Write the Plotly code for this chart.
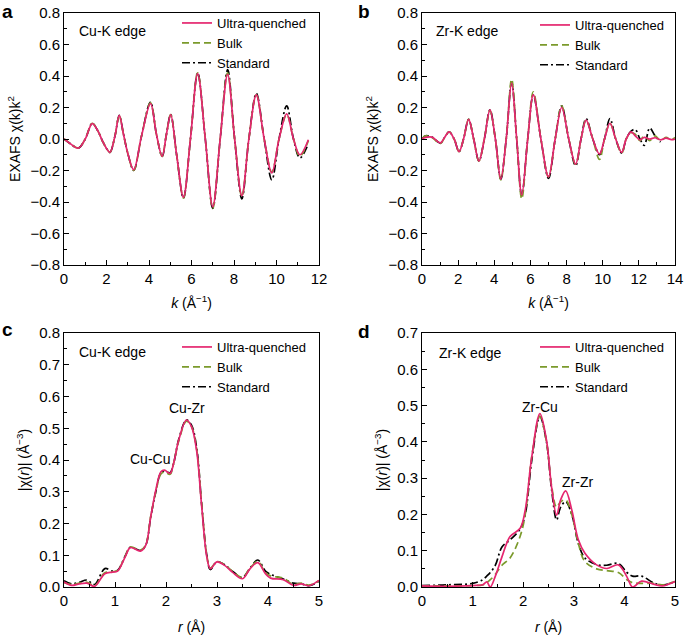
import plotly.graph_objects as go

# ---------------- Panel a: Cu-K edge EXAFS ----------------
k_a = [0, 0.3, 0.67, 1.0, 1.33, 1.6, 1.8, 2.0, 2.16, 2.4, 2.6, 2.8, 3.0, 3.28, 3.65, 4.07, 4.35, 4.62,
       4.82, 5.02, 5.3, 5.62, 5.95, 6.29, 6.65, 7.0, 7.35, 7.7, 8.03, 8.37, 8.7, 9.05, 9.42, 9.78,
       10.12, 10.48, 10.8, 11.1, 11.5]
a_uq = [0, -0.03, -0.058, 0.0, 0.098, 0.05, -0.01, -0.06, -0.085, 0.02, 0.15, 0.03, -0.09, -0.195, 0.02,
        0.225, 0.03, -0.11, 0.03, 0.155, -0.1, -0.37, 0.0, 0.415, 0.0, -0.43, 0.0, 0.41, 0.0, -0.36,
        0.0, 0.28, 0.0, -0.215, 0.0, 0.16, 0.0, -0.1, -0.005]
a_bulk = [0, -0.03, -0.058, 0.0, 0.1, 0.05, -0.01, -0.06, -0.085, 0.02, 0.15, 0.03, -0.09, -0.2, 0.02,
          0.23, 0.03, -0.11, 0.03, 0.155, -0.1, -0.375, 0.0, 0.42, 0.0, -0.44, 0.0, 0.42, 0.0, -0.365,
          0.0, 0.28, 0.0, -0.21, 0.0, 0.155, 0.0, -0.11, -0.01]
a_std = [0, -0.03, -0.058, 0.0, 0.1, 0.05, -0.01, -0.06, -0.085, 0.02, 0.15, 0.03, -0.09, -0.2, 0.02,
         0.235, 0.03, -0.11, 0.03, 0.155, -0.1, -0.375, 0.0, 0.42, 0.0, -0.44, 0.0, 0.44, 0.0, -0.38,
         0.0, 0.29, 0.0, -0.26, 0.0, 0.21, 0.0, -0.12, -0.03]

# ---------------- Panel b: Zr-K edge EXAFS ----------------
k_b = [0, 0.2, 0.55, 1.02, 1.25, 1.5, 1.78, 2.05, 2.3, 2.58, 2.86, 3.15, 3.45, 3.76, 4.06, 4.36, 4.66,
       4.96, 5.24, 5.52, 5.85, 6.16, 6.58, 7.0, 7.37, 7.73, 8.12, 8.5, 8.8, 9.08, 9.45, 9.82, 10.1,
       10.4, 10.72, 11.05, 11.3, 11.57, 11.8, 12.06, 12.3, 12.6, 12.9, 13.2, 13.5, 13.8, 14.0]
b_uq = [0.0, 0.01, 0.012, -0.025, 0.01, 0.045, 0.0, -0.08, 0.0, 0.125, 0.0, -0.14, 0.0, 0.185, 0.0,
        -0.255, 0.0, 0.355, 0.0, -0.355, 0.0, 0.28, 0.0, -0.24, 0.0, 0.2, 0.0, -0.16, 0.0, 0.12, 0.0,
        -0.095, 0.0, 0.1, 0.0, -0.085, 0.0, 0.045, 0.02, -0.005, 0.01, 0.0, 0.008, -0.005, 0.006,
        -0.004, 0.0]
b_bulk = [0.0, 0.02, 0.01, -0.03, 0.01, 0.045, 0.0, -0.08, 0.0, 0.125, 0.0, -0.14, 0.0, 0.18, 0.0,
          -0.26, 0.0, 0.38, 0.0, -0.38, 0.0, 0.3, 0.0, -0.24, 0.0, 0.21, 0.0, -0.16, 0.0, 0.12, 0.0,
          -0.13, 0.0, 0.1, 0.0, -0.09, 0.0, 0.04, 0.03, -0.01, 0.02, -0.01, 0.02, -0.01, 0.01,
          -0.005, 0.01]
k_b_std = k_b[:44]
b_std = [0.0, 0.02, 0.012, -0.025, 0.01, 0.045, 0.0, -0.08, 0.0, 0.125, 0.0, -0.14, 0.0, 0.185, 0.0,
         -0.255, 0.0, 0.36, 0.0, -0.36, 0.0, 0.28, 0.0, -0.25, 0.0, 0.21, 0.0, -0.17, 0.0, 0.13, 0.0,
         -0.1, 0.0, 0.13, 0.0, -0.09, 0.0, 0.05, 0.06, 0.0, -0.04, 0.07, 0.02, -0.02]

# ---------------- Panel c: Cu-K edge FT ----------------
r_c = [0, 0.15, 0.3, 0.45, 0.6, 0.8, 0.95, 1.05, 1.2, 1.3, 1.5, 1.6, 1.7, 1.8, 1.9, 1.97, 2.08, 2.15,
       2.25, 2.4, 2.5, 2.6, 2.7, 2.8, 2.87, 3.0, 3.15, 3.3, 3.5, 3.65, 3.8, 3.95, 4.05, 4.3, 4.5,
       4.65, 4.8, 5.0]
c_uq = [0.016, 0.005, 0.01, 0.012, 0.002, 0.042, 0.047, 0.05, 0.095, 0.124, 0.113, 0.13, 0.22, 0.305,
        0.363, 0.368, 0.358, 0.39, 0.463, 0.526, 0.505, 0.43, 0.253, 0.095, 0.058, 0.079, 0.068,
        0.047, 0.026, 0.058, 0.077, 0.042, 0.028, 0.023, 0.005, 0.01, 0.004, 0.021]
c_bulk = [0.014, 0.008, 0.012, 0.015, 0.004, 0.045, 0.048, 0.052, 0.097, 0.126, 0.116, 0.132, 0.222,
          0.3, 0.356, 0.362, 0.355, 0.39, 0.46, 0.522, 0.505, 0.435, 0.26, 0.1, 0.06, 0.08, 0.07,
          0.05, 0.03, 0.06, 0.08, 0.045, 0.035, 0.028, 0.008, 0.012, 0.006, 0.02]
c_std = [0.02, 0.01, 0.015, 0.022, 0.008, 0.058, 0.05, 0.052, 0.098, 0.125, 0.115, 0.13, 0.22, 0.3,
         0.36, 0.365, 0.36, 0.39, 0.465, 0.526, 0.51, 0.44, 0.26, 0.1, 0.055, 0.08, 0.07, 0.05,
         0.03, 0.06, 0.085, 0.05, 0.04, 0.025, 0.012, 0.01, 0.004, 0.018]

# ---------------- Panel d: Zr-K edge FT ----------------
r_d = [0, 0.5, 1.0, 1.2, 1.28, 1.35, 1.45, 1.58, 1.74, 1.94, 2.04, 2.17, 2.33, 2.46, 2.56, 2.66, 2.74,
       2.84, 2.96, 3.09, 3.22, 3.45, 3.65, 3.88, 4.05, 4.16, 4.34, 4.57, 4.75, 5.0]
d_uq = [0.003, 0.002, 0.004, 0.006, 0.014, 0.0, 0.03, 0.083, 0.139, 0.162, 0.212, 0.359, 0.478, 0.405,
        0.276, 0.198, 0.24, 0.265, 0.212, 0.13, 0.093, 0.061, 0.051, 0.061, 0.028, 0.0, 0.016,
        0.008, 0.003, 0.015]
d_bulk = [0.003, 0.003, 0.004, 0.006, 0.012, 0.02, 0.035, 0.06, 0.08, 0.14, 0.2, 0.36, 0.47, 0.4,
          0.28, 0.22, 0.235, 0.24, 0.2, 0.12, 0.07, 0.05, 0.045, 0.04, 0.02, 0.012, 0.01, 0.01,
          0.006, 0.015]
d_std = [0.004, 0.006, 0.01, 0.02, 0.03, 0.04, 0.06, 0.11, 0.13, 0.16, 0.2, 0.35, 0.47, 0.4, 0.27,
         0.185, 0.22, 0.235, 0.2, 0.12, 0.08, 0.062, 0.06, 0.065, 0.04, 0.03, 0.03, 0.012, 0.005,
         0.015]

series_names = ["Ultra-quenched", "Bulk", "Standard"]
colors = ["#E5266F", "#7B9A2C", "#000000"]
dashes = ["solid", "7px,4px", "8px,3px,2px,3px"]

W, H = 685, 636
def px(xp):
    return xp / W
def py(yp):
    return 1 - yp / H

panels = [
    dict(ys=[a_uq, a_bulk, a_std], xs=[k_a, k_a, k_a], ax="", leg="legend"),
    dict(ys=[b_uq, b_bulk, b_std], xs=[k_b, k_b, k_b_std], ax="2", leg="legend2"),
    dict(ys=[c_uq, c_bulk, c_std], xs=[r_c, r_c, r_c], ax="3", leg="legend3"),
    dict(ys=[d_uq, d_bulk, d_std], xs=[r_d, r_d, r_d], ax="4", leg="legend4"),
]

fig = go.Figure()
for p in panels:
    for i in [2, 1, 0]:
        fig.add_trace(go.Scatter(
            x=p["xs"][i], y=p["ys"][i], mode="lines", name=series_names[i],
            line=dict(color=colors[i], dash=dashes[i], width=1.7, shape="spline", smoothing=1.0),
            xaxis="x" + p["ax"], yaxis="y" + p["ax"], legend=p["leg"], legendrank=i + 1,
        ))

font_family = "Liberation Sans, Arial, sans-serif"
common_axis = dict(showgrid=False, zeroline=False, showline=True, linecolor="black", linewidth=1,
                   mirror=True, ticks="inside", ticklen=5, tickwidth=1, tickcolor="black",
                   automargin=False, ticklabeloverflow="allow",
                   tickfont=dict(size=15, color="black", family=font_family))

dom_x_left = [px(64), px(319)]
dom_x_right = [px(422), px(675)]
dom_y_top = [py(265), py(13)]
dom_y_bot = [py(587), py(333)]

title_font = dict(size=14, color="black", family=font_family)

fig.update_layout(
    width=W, height=H, autosize=False,
    margin=dict(l=0, r=0, t=0, b=0, autoexpand=False),
    paper_bgcolor="white", plot_bgcolor="white",
    font=dict(family=font_family, color="black"),
    xaxis=dict(domain=dom_x_left, anchor="y", range=[0, 12], dtick=2, tick0=0,
               minor=dict(ticks="inside", ticklen=3, dtick=1, tickcolor="black"),
               title=dict(text="<i>k</i> (Å<sup>−1</sup>)", font=title_font, standoff=12), **common_axis),
    yaxis=dict(domain=dom_y_top, anchor="x", range=[-0.8, 0.8], dtick=0.2, tick0=0, tickformat=".1f",
               minor=dict(ticks="inside", ticklen=3, dtick=0.1, tickcolor="black"),
               title=dict(text="EXAFS χ(k)k<sup>2</sup>", font=title_font, standoff=6), **common_axis),
    xaxis2=dict(domain=dom_x_right, anchor="y2", range=[0, 14], dtick=2, tick0=0,
                minor=dict(ticks="inside", ticklen=3, dtick=1, tickcolor="black"),
                title=dict(text="<i>k</i> (Å<sup>−1</sup>)", font=title_font, standoff=12), **common_axis),
    yaxis2=dict(domain=dom_y_top, anchor="x2", range=[-0.8, 0.8], dtick=0.2, tick0=0, tickformat=".1f",
                minor=dict(ticks="inside", ticklen=3, dtick=0.1, tickcolor="black"),
                title=dict(text="EXAFS χ(k)k<sup>2</sup>", font=title_font, standoff=6), **common_axis),
    xaxis3=dict(domain=dom_x_left, anchor="y3", range=[0, 5], dtick=1, tick0=0,
                minor=dict(ticks="inside", ticklen=3, dtick=0.5, tickcolor="black"),
                title=dict(text="<i>r</i> (Å)", font=title_font, standoff=14), **common_axis),
    yaxis3=dict(domain=dom_y_bot, anchor="x3", range=[0, 0.8], dtick=0.1, tick0=0, tickformat=".1f",
                minor=dict(ticks="inside", ticklen=3, dtick=0.05, tickcolor="black"),
                title=dict(text="|χ(<i>r</i>)| (Å<sup>−3</sup>)", font=title_font, standoff=6), **common_axis),
    xaxis4=dict(domain=dom_x_right, anchor="y4", range=[0, 5], dtick=1, tick0=0,
                minor=dict(ticks="inside", ticklen=3, dtick=0.5, tickcolor="black"),
                title=dict(text="<i>r</i> (Å)", font=title_font, standoff=14), **common_axis),
    yaxis4=dict(domain=dom_y_bot, anchor="x4", range=[0, 0.7], dtick=0.1, tick0=0, tickformat=".1f",
                minor=dict(ticks="inside", ticklen=3, dtick=0.05, tickcolor="black"),
                title=dict(text="|χ(<i>r</i>)| (Å<sup>−3</sup>)", font=title_font, standoff=6), **common_axis),
)

leg_common = dict(bgcolor="rgba(0,0,0,0)", borderwidth=0, font=dict(size=13, color="black", family=font_family),
                  xanchor="left", yanchor="top", tracegroupgap=0, traceorder="normal", itemwidth=30)
fig.update_layout(
    legend=dict(x=px(177), y=py(8), **leg_common),
    legend2=dict(x=px(535), y=py(10), **leg_common),
    legend3=dict(x=px(177), y=py(332), **leg_common),
    legend4=dict(x=px(535), y=py(332), **leg_common),
)

ann = []
for txt, xp, yp in [("a", 0, 11), ("b", 356, 11), ("c", 0, 329), ("d", 356, 331)]:
    ann.append(dict(text="<b>%s</b>" % txt, x=px(xp), y=py(yp), xref="paper", yref="paper",
                    xanchor="left", yanchor="middle", showarrow=False,
                    font=dict(size=19, color="black", family=font_family)))
label_font = dict(size=14, color="black", family=font_family)
ann += [
    dict(text="Cu-K edge", x=0.61, y=0.686, xref="x", yref="y", xanchor="left", showarrow=False, font=label_font),
    dict(text="Zr-K edge", x=0.66, y=0.686, xref="x2", yref="y2", xanchor="left", showarrow=False, font=label_font),
    dict(text="Cu-K edge", x=0.26, y=0.739, xref="x3", yref="y3", xanchor="left", showarrow=False, font=label_font),
    dict(text="Zr-K edge", x=0.29, y=0.644, xref="x4", yref="y4", xanchor="left", showarrow=False, font=label_font),
    dict(text="Cu-Cu", x=1.69, y=0.402, xref="x3", yref="y3", showarrow=False, font=label_font),
    dict(text="Cu-Zr", x=2.41, y=0.563, xref="x3", yref="y3", showarrow=False, font=label_font),
    dict(text="Zr-Cu", x=2.33, y=0.497, xref="x4", yref="y4", showarrow=False, font=label_font),
    dict(text="Zr-Zr", x=3.07, y=0.29, xref="x4", yref="y4", showarrow=False, font=label_font),
]
fig.update_layout(annotations=ann)

fig.write_html("out.html", config={"displayModeBar": False},
               post_script="document.body.style.margin='0px';")
